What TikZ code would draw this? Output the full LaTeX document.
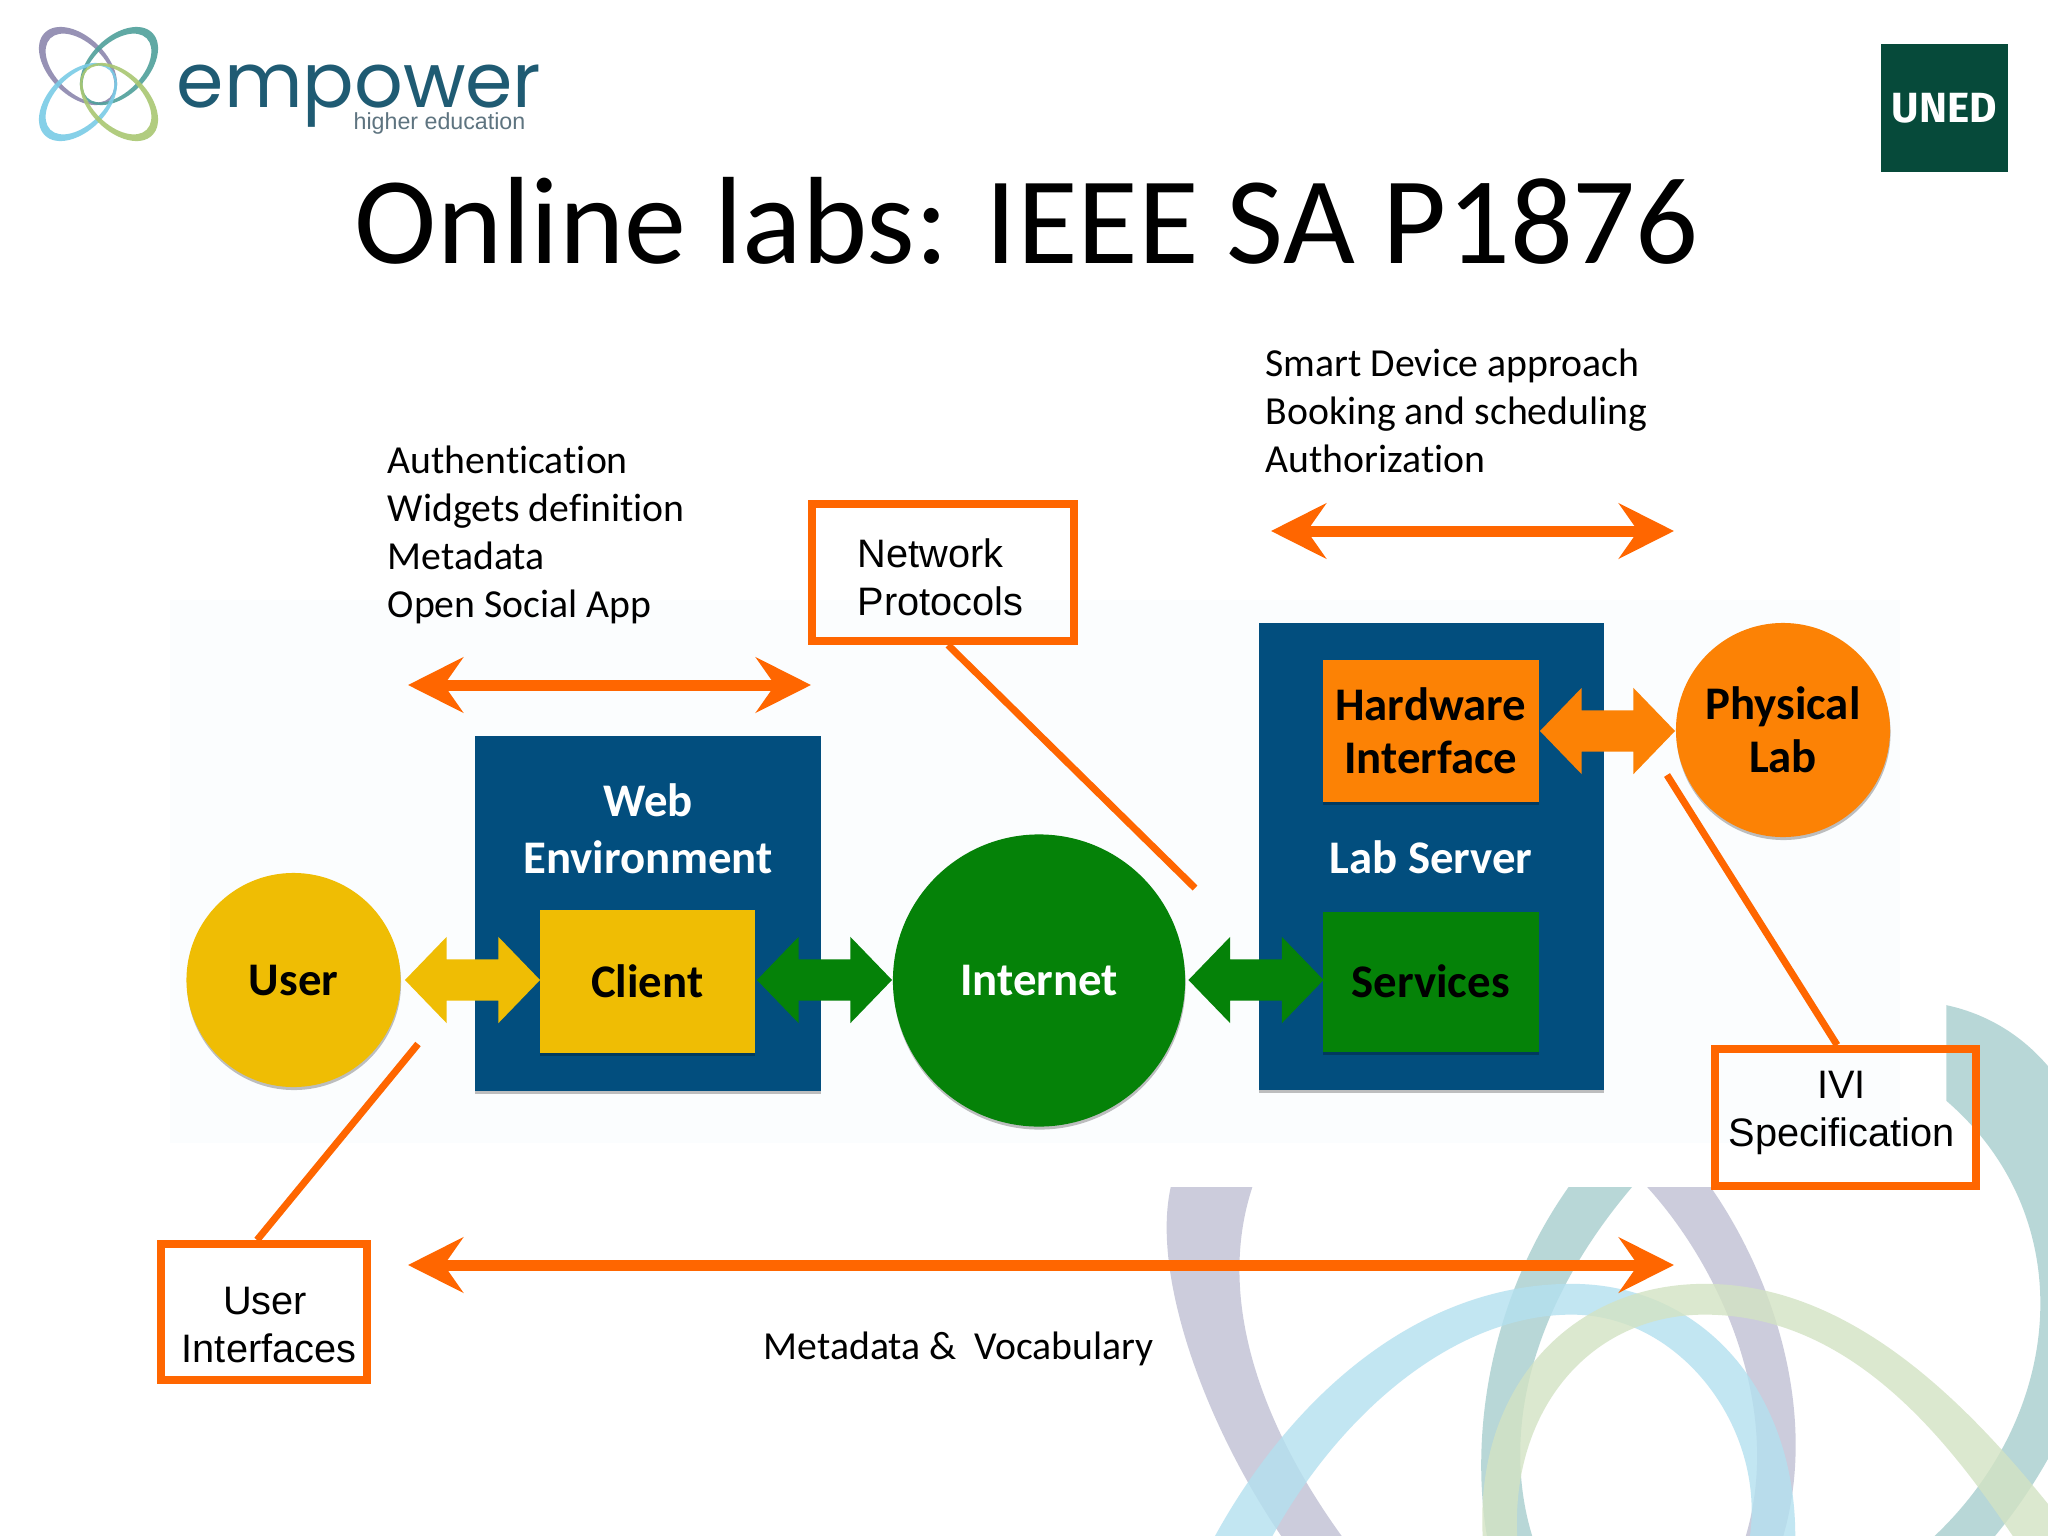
\documentclass[tikz,border=0pt]{standalone}
\usepackage{fontspec}
\setmainfont[Ligatures=NoCommon]{Carlito}
\newfontfamily\arialf{Liberation Sans}
\newfontfamily\logof{Poppins}
\newfontfamily\unedf{Fira Sans}
\usetikzlibrary{arrows.meta,shapes.arrows,shadows}
\definecolor{blu}{HTML}{024E7E}
\definecolor{yel}{HTML}{EFBD04}
\definecolor{grn}{HTML}{058208}
\definecolor{org}{HTML}{FC8205}
\definecolor{call}{HTML}{FF6600}
\definecolor{lav}{HTML}{C0C0D4}
\definecolor{tea}{HTML}{A7CECE}
\definecolor{lbl}{HTML}{B3E0EF}
\definecolor{lgr}{HTML}{D3E3C3}
\definecolor{unedg}{HTML}{064A3A}
\definecolor{logot}{HTML}{1F5B73}
\definecolor{logog}{HTML}{5E7480}
\definecolor{pet1}{HTML}{8C87AE}
\definecolor{pet2}{HTML}{4FA09B}
\definecolor{pet3}{HTML}{79CBE6}
\definecolor{pet4}{HTML}{A9C772}
\definecolor{panel}{HTML}{FBFDFE}
\tikzset{
  x=0.01cm,y=-0.01cm,
  softshadow/.style={drop shadow={shadow xshift=0.005cm,shadow yshift=-0.03cm,opacity=0.25,fill=black}},
  pane/.style={fill=blu,draw=none,inner sep=0,anchor=north west,softshadow},
  tile/.style={draw=none,inner sep=0,anchor=north west,align=center,softshadow},
  disc/.style={circle,draw=none,inner sep=0,minimum size=2.14cm,align=center,softshadow},
  fat/.style={double arrow,draw=none,inner sep=0,minimum height=1.35cm,minimum width=0.85cm,
    double arrow head extend=0.225cm,double arrow tip angle=92},
  dtxt/.style={font=\fontsize{13.3}{15.2}\selectfont\bfseries},
  note/.style={font=\fontsize{11.3}{13.65}\selectfont,align=left,anchor=north west,inner sep=0},
  callbox/.style={draw=call,line width=0.08cm,inner sep=0,anchor=north west,
    font=\arialf\fontsize{11.3}{13.65}\selectfont},
  callline/.style={draw=call,line width=0.07cm},
  span/.style={draw=call,line width=0.11cm,
    {Stealth[length=0.55cm,width=0.55cm,inset=0.19cm]}-{Stealth[length=0.55cm,width=0.55cm,inset=0.19cm]}},
  band/.style={opacity=0.8},
  petal/.style={even odd rule,opacity=0.9},
}
\newcommand{\shaft}{\rule{0pt}{0.40cm}}
\begin{document}
\begin{tikzpicture}
\useasboundingbox (0,0) rectangle (2048,1536);
\fill[white] (0,0) rectangle (2048,1536);
% watermark rings
\begin{scope}
\clip (0,0) rectangle (2048,1536);
\begin{scope}[shift={(1100,1000)},x=0.006046cm,y=-0.003419cm]
\fill[band,lav] (117,547) .. controls (85,800) and (170,1230) .. (300,1568) -- (400,1568) .. controls (270,1250) and (190,880) .. (252,547) -- cycle;
\fill[band,lav] (905,547) .. controls (1030,790) and (1130,1200) .. (1068,1568) -- (1130,1568) .. controls (1190,1200) and (1110,800) .. (1010,547) -- cycle;
\fill[band,tea] (775,547) .. controls (650,860) and (610,1250) .. (640,1568) -- (715,1568) .. controls (660,1250) and (720,880) .. (880,547) -- cycle;
\fill[band,tea] (1400,15) .. controls (1700,130) and (1770,950) .. (1480,1568) -- (1380,1568) .. controls (1600,1200) and (1620,630) .. (1400,295) -- cycle;
\fill[band,lbl] (190,1568) .. controls (320,1150) and (530,830) .. (780,830) .. controls (1000,830) and (1150,1150) .. (1150,1568) -- (1075,1568) .. controls (1100,1250) and (960,920) .. (780,920) .. controls (590,920) and (400,1200) .. (285,1568) -- cycle;
\fill[band,lgr] (633,1568) .. controls (620,1130) and (780,830) .. (1000,830) .. controls (1250,830) and (1450,1200) .. (1610,1568) -- (1510,1568) .. controls (1400,1280) and (1240,920) .. (1000,920) .. controls (810,920) and (680,1200) .. (690,1568) -- cycle;
\end{scope}
\end{scope}
% pale picture panel
\fill[panel] (170,600) rectangle (1900,1143);
% logo
\fill[petal,pet1] (78,66) ellipse[x radius=47,y radius=29,rotate=-45] (80,68) ellipse[x radius=42,y radius=24.5,rotate=-45];
\fill[petal,pet2] (119,66) ellipse[x radius=47,y radius=29,rotate=45] (117,68) ellipse[x radius=42,y radius=24.5,rotate=45];
\fill[petal,pet3] (78,102) ellipse[x radius=47,y radius=29,rotate=45] (80,100) ellipse[x radius=42,y radius=24.5,rotate=45];
\fill[petal,pet4] (119,102) ellipse[x radius=47,y radius=29,rotate=-45] (117,100) ellipse[x radius=42,y radius=24.5,rotate=-45];
\node[anchor=base west,inner sep=0,text=logot,font=\logof\fontsize{21.7}{24}\selectfont] (emp) at (176,107) {empower};
\node[anchor=base east,inner sep=0,text=logog,font=\arialf\fontsize{6.6}{8}\selectfont] (hied) at (526,129) {higher education};
\node[fill=unedg,anchor=north west,minimum width=1.27cm,minimum height=1.28cm,inner sep=0,text=white,font=\unedf\bfseries\fontsize{12}{13}\selectfont] (uned) at (1880,43) {UNED};
% title
\node[anchor=base,inner sep=0,font=\fontsize{35.3}{40}\selectfont] (title) at (1027,263) {Online labs: IEEE SA P1876};
% diagram
\node[pane,minimum width=3.46cm,minimum height=3.55cm] (web) at (474,735) {};
\node[pane,minimum width=3.45cm,minimum height=4.67cm] (lab) at (1258,622) {};
\node[fat,fill=yel] (ua) at (472.5,980) {\shaft};
\node[fat,fill=grn] (ca) at (824.5,980) {\shaft};
\node[fat,fill=grn] (ia) at (1256,980) {\shaft};
\node[fat,fill=org] (ha) at (1607.5,731) {\shaft};
\node[disc,fill=yel,dtxt] (user) at (293.5,980) {User};
\node[tile,fill=yel,dtxt,minimum width=2.15cm,minimum height=1.43cm] (client) at (539,909) {Client};
\node[disc,fill=grn,minimum size=2.92cm,text=white,dtxt] (net) at (1039,980.5) {Internet};
\node[tile,fill=org,dtxt,minimum width=2.16cm,minimum height=1.42cm] (hw) at (1322,659) {Hardware\\Interface};
\node[tile,fill=grn,dtxt,minimum width=2.16cm,minimum height=1.40cm] (srv) at (1322,911) {Services};
\node[disc,fill=org,dtxt] (phys) at (1783,730) {Physical\\Lab};
\node[anchor=base,inner sep=0,text=white,dtxt] (webt) at (648,816) {Web};
\node[anchor=base,inner sep=0,text=white,dtxt] (envt) at (648,873) {Environment};
\node[anchor=base,inner sep=0,text=white,dtxt] (labt) at (1431,873) {Lab Server};
% notes
\node[note] (n1) at (387,445) {Authentication\\Widgets definition\\Metadata\\Open Social App};
\node[note] (n2) at (1265,348) {Smart Device approach\\Booking and scheduling\\Authorization};
\node[note,anchor=base west] (n3) at (763,1359) {Metadata \&\ \ Vocabulary};
% span arrows
\coordinate (s1a) at (408,685); \coordinate (s1b) at (811,685);
\coordinate (s2a) at (1271,531); \coordinate (s2b) at (1674,531);
\coordinate (s3a) at (408,1265); \coordinate (s3b) at (1674,1265);
\draw[span] (s1a) -- (s1b);
\draw[span] (s2a) -- (s2b);
\draw[span] (s3a) -- (s3b);
% callouts
\node[callbox,minimum width=2.62cm,minimum height=1.37cm,align=left,text width=1.71cm] (netbox) at (808,500) {\rule{0pt}{11.1pt}Network\\Protocols};
\node[callbox,minimum width=2.06cm,minimum height=1.36cm,align=center] (uibox) at (157,1240) {\rule{0pt}{15pt}User\kern-0.02cm\\\kern0.1cm Interfaces};
\node[callbox,minimum width=2.61cm,minimum height=1.37cm,align=center] (ivi) at (1711,1045) {IVI\kern0.08cm\\Specification\kern0.08cm\rule[-5.2pt]{0pt}{0pt}};
\coordinate (c1) at (1195,888);
\coordinate (c2) at (418,1044);
\coordinate (c3) at (1667,775);
\draw[callline] ([xshift=0.05cm]netbox.south) -- (c1);
\draw[callline] ([xshift=-0.07cm]uibox.north) -- (c2);
\draw[callline] ([xshift=-0.085cm]ivi.north) -- (c3);
\end{tikzpicture}
\end{document}
